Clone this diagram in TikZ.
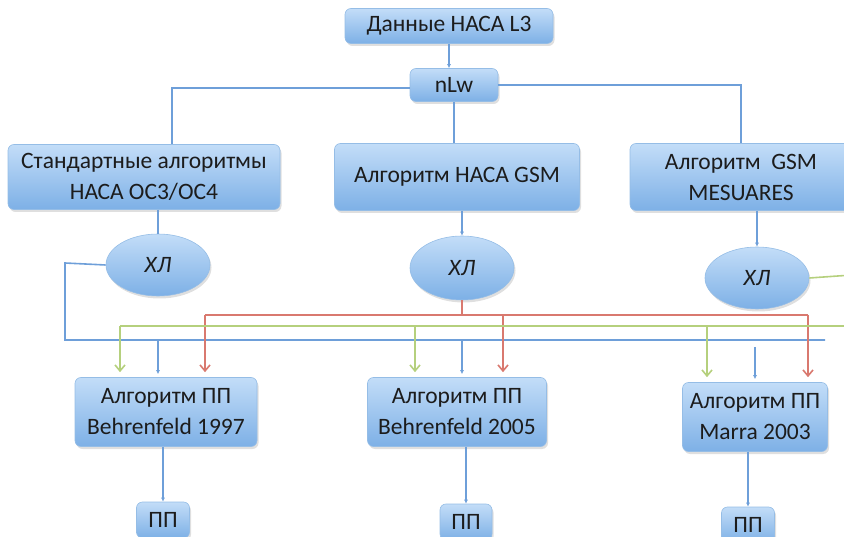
\documentclass[tikz,border=0pt]{standalone}
\usepackage{fontspec}
\setmainfont{Carlito}
\usetikzlibrary{shadows,arrows.meta,calc,shapes.geometric}
\definecolor{boxtop}{HTML}{C3DDF8}
\definecolor{boxbot}{HTML}{7DB0E6}
\definecolor{boxedge}{HTML}{95BDE6}
\definecolor{bl}{HTML}{6E9FD9}
\definecolor{rd}{HTML}{D9796F}
\definecolor{gr}{HTML}{B5D07D}
\definecolor{txt}{HTML}{1C1C1C}
\tikzset{
  box/.style={rectangle, rounded corners=6pt, top color=boxtop, bottom color=boxbot,
    draw=boxedge, line width=0.6pt, text=txt, align=center, inner sep=0pt,
    font=\fontsize{23.5}{31}\selectfont,
    drop shadow={shadow xshift=1.5pt, shadow yshift=-2.5pt, opacity=0.25}},
  oval/.style={ellipse, top color=boxtop, bottom color=boxbot, draw=boxedge,
    line width=0.6pt, text=txt, inner sep=0pt, font=\fontsize{23.5}{25}\selectfont\itshape,
    minimum width=104pt, minimum height=62pt,
    drop shadow={shadow xshift=1.5pt, shadow yshift=-2.5pt, opacity=0.25}},
  bline/.style={draw=bl, line width=1.6pt},
  bar/.style={bline, -{Latex[length=4pt,width=4pt]}},
  rline/.style={draw=rd, line width=1.6pt},
  rar/.style={rline, -{Straight Barb[length=6pt,width=10pt]}},
  gline/.style={draw=gr, line width=1.6pt},
  gar/.style={gline, -{Straight Barb[length=6pt,width=10pt]}},
}
\begin{document}
\begin{tikzpicture}[x=1pt,y=-1pt]
\path[use as bounding box] (0,0) rectangle (844,537);
\clip (0,0) rectangle (844,537);
% nodes
\node[box, minimum width=208pt, minimum height=35pt] (top) at (449,26) {Данные НАСА L3};
\node[box, minimum width=88pt, minimum height=33pt] (nlw) at (454,85) {nLw};
\node[box, minimum width=272pt, minimum height=65pt] (b1) at (144,177) {Стандартные алгоритмы\\НАСА ОС3/ОС4};
\node[box, minimum width=245pt, minimum height=67pt] (b2) at (457,177) {Алгоритм НАСА GSM};
\node[box, minimum width=222pt, minimum height=67pt] (b3) at (741,177) {Алгоритм\ \ GSM\\MESUARES};
\node[oval] (e1) at (158,265) {ХЛ};
\node[oval, minimum height=64pt] (e2) at (462,268) {ХЛ};
\node[oval] (e3) at (757,278) {ХЛ};
\node[box, minimum width=182pt, minimum height=69pt] (pA) at (166,412) {Алгоритм ПП\\Behrenfeld 1997};
\node[box, minimum width=179pt, minimum height=69pt] (pB) at (457,412) {Алгоритм ПП\\Behrenfeld 2005};
\node[box, minimum width=145pt, minimum height=69pt] (pC) at (755,417) {Алгоритм ПП\\Marra 2003};
\node[box, minimum width=53pt, minimum height=36pt] (ppA) at (163,520) {ПП};
\node[box, minimum width=52pt, minimum height=36pt] (ppB) at (466,522) {ПП};
\node[box, minimum width=53pt, minimum height=36pt] (ppC) at (748,525) {ПП};
% coordinates
\coordinate (kL) at (172,88);
\coordinate (bx) at (65,263);
\coordinate (by) at (65,340);
\coordinate (bz) at (825,340);
\coordinate (bA) at (158,340);
\coordinate (bB) at (462,340);
\coordinate (bC) at (755,347);
\coordinate (rm) at (462,315);
\coordinate (rA) at (205,315);
\coordinate (rB) at (503,315);
\coordinate (rC) at (808,315);
\coordinate (gx) at (852,275);
\coordinate (gy) at (852,326);
\coordinate (gA) at (120,326);
\coordinate (gB) at (415,326);
\coordinate (gC) at (707,326);
% top connectors
\draw[bar] (top.south) -- (top.south |- nlw.north);
\draw[bline] (nlw.west |- kL) -- (kL) -- (kL |- b1.north);
\draw[bline] (nlw.east) -| (b3.north);
\draw[bline] (nlw.south) -- (nlw.south |- b2.north);
\draw[bline] (e1.north |- b1.south) -- (e1.north);
\draw[bar] (e2.north |- b2.south) -- (e2.north);
\draw[bar] (e3.north |- b3.south) -- (e3.north);
% blue bus
\draw[bline] (e1.west) -- (bx) -- (by) -- (bz);
\draw[bar, shorten >=3pt] (bA) -- (bA |- pA.north);
\draw[bar, shorten >=3pt] (bB) -- (bB |- pB.north);
\draw[bar, shorten >=3pt] (bC) -- (bC |- pC.north);
% red bus
\draw[rline] (e2.south) -- (rm);
\draw[rline] (rA) -- (rC);
\draw[rar, shorten >=5pt] (rA) -- (rA |- pA.north);
\draw[rar, shorten >=5pt] (rB) -- (rB |- pB.north);
\draw[rar, shorten >=5pt] (rC) -- (rC |- pC.north);
% green bus
\draw[gline] (e3.east) -- (gx) -- (gy) -- (gA);
\draw[gar, shorten >=5pt] (gA) -- (gA |- pA.north);
\draw[gar, shorten >=5pt] (gB) -- (gB |- pB.north);
\draw[gar, shorten >=5pt] (gC) -- (gC |- pC.north);
% bottom
\draw[bar] (ppA.north |- pA.south) -- (ppA.north);
\draw[bar] (ppB.north |- pB.south) -- (ppB.north);
\draw[bar] (ppC.north |- pC.south) -- (ppC.north);
\end{tikzpicture}
\end{document}
